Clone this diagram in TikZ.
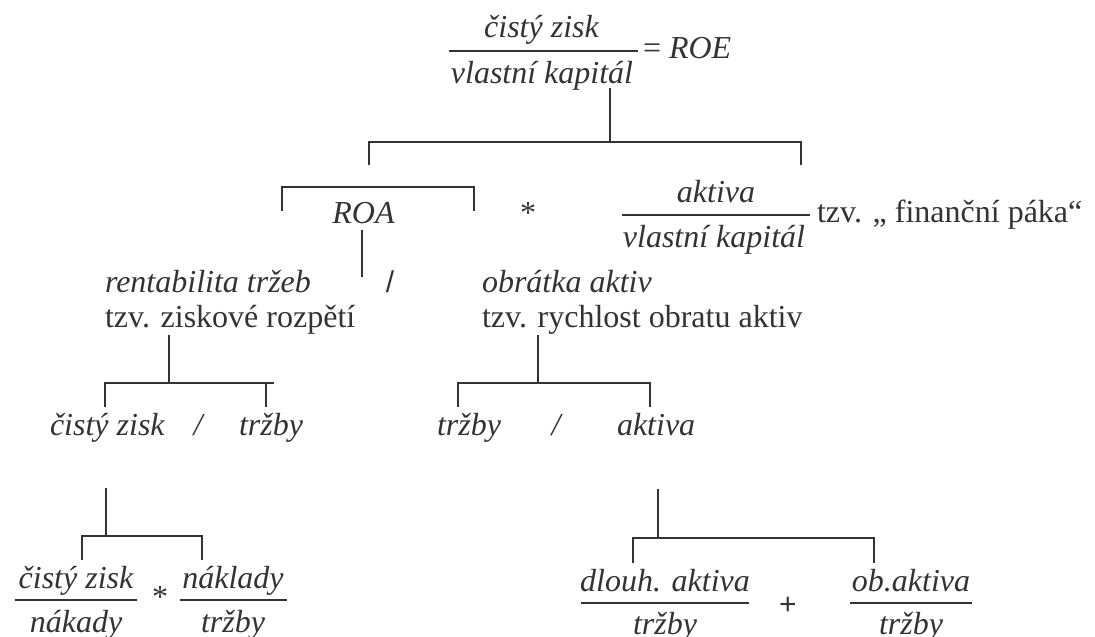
\documentclass[tikz,border=0pt]{standalone}
\usepackage{fontspec}
\setmainfont{Liberation Serif}
\newfontfamily\sansglyph{Liberation Sans}
\definecolor{ink}{HTML}{333333}
\tikzset{
  txt/.style={inner sep=0pt, outer sep=0pt, text=ink, font=\fontsize{32}{38}\selectfont},
  itx/.style={txt, font=\fontsize{32}{38}\selectfont\itshape},
  sgl/.style={txt, font=\fontsize{30}{36}\selectfont\sansglyph},
  link/.style={draw=ink, line width=2pt},
  fbar/.style={draw=ink, line width=1.6pt}
}
\begin{document}
\begin{tikzpicture}[x=1pt,y=-1pt]
\useasboundingbox (0,0) rectangle (1095,637);
% ---------- top: ROE ----------
\node[itx, anchor=base] (roeNum) at (541.5,37) {čistý zisk};
\node[itx, anchor=base] (roeDen) at (542,83) {vlastní kapitál};
\coordinate (roeBarL) at (449,50.7);
\coordinate (roeBarR) at (638,50.7);
\draw[fbar] (roeBarL) -- (roeBarR);
\node[txt, anchor=base west] (roe) at (643,58) {= \textit{ROE}};
% top bracket
\coordinate (t0) at (610,88);
\coordinate (t1) at (610,142);
\coordinate (tL) at (369,142);
\coordinate (tR) at (801,142);
\coordinate (tLd) at (369,165);
\coordinate (tRd) at (801,165);
\draw[link] (t0) -- (t1);
\draw[link] (tLd) -- (tL) -- (tR) -- (tRd);
% ---------- ROA ----------
\coordinate (rL) at (282,211);
\coordinate (rLu) at (282,187);
\coordinate (rRu) at (474,187);
\coordinate (rR) at (474,211);
\draw[link] (rL) -- (rLu) -- (rRu) -- (rR);
\node[itx, anchor=base] (roa) at (363.5,223) {ROA};
\node[txt, anchor=base] (mul1) at (528,223) {*};
% aktiva / vlastni kapital
\node[itx, anchor=base] (akNum) at (716,202) {aktiva};
\node[itx, anchor=base] (akDen) at (714,247) {vlastní kapitál};
\coordinate (akBarL) at (622,215);
\coordinate (akBarR) at (810,215);
\draw[fbar] (akBarL) -- (akBarR);
\node[txt, anchor=base west] (paka) at (817,222) {tzv. „ finanční páka“};
% ROA split
\coordinate (s0) at (362,230);
\coordinate (s1) at (362,277);
\draw[link] (s0) -- (s1);
\node[sgl, anchor=base] (div1) at (390,292) {/};
\node[itx, anchor=base west] (rent) at (105,292) {rentabilita tržeb};
\node[txt, anchor=base west] (zisk) at (105,327) {tzv. ziskové rozpětí};
\node[itx, anchor=base west] (obr) at (482,292) {obrátka aktiv};
\node[txt, anchor=base west] (rych) at (482,327) {tzv. rychlost obratu aktiv};
% left middle bracket
\coordinate (lm0) at (169,335);
\coordinate (lm1) at (169,383);
\coordinate (lmL) at (105,383);
\coordinate (lmE) at (274,383);
\coordinate (lmLd) at (105,407);
\coordinate (lmRu) at (266,383);
\coordinate (lmRd) at (266,407);
\draw[link] (lm0) -- (lm1);
\draw[link] (lmLd) -- (lmL) -- (lmE);
\draw[link] (lmRu) -- (lmRd);
\node[itx, anchor=base west] (cz1) at (50,435) {čistý zisk};
\node[itx, anchor=base] (div2) at (198,435) {/};
\node[itx, anchor=base west] (tr1) at (239,435) {tržby};
% right middle bracket
\coordinate (rm0) at (538,335);
\coordinate (rm1) at (538,383);
\coordinate (rmL) at (458,383);
\coordinate (rmR) at (650,383);
\coordinate (rmLd) at (458,407);
\coordinate (rmRd) at (650,407);
\draw[link] (rm0) -- (rm1);
\draw[link] (rmLd) -- (rmL) -- (rmR) -- (rmRd);
\node[itx, anchor=base west] (tr2) at (437,435) {tržby};
\node[itx, anchor=base] (div3) at (556,435) {/};
\node[itx, anchor=base west] (ak2) at (617,435) {aktiva};
% bottom left bracket
\coordinate (bl0) at (106,488);
\coordinate (bl1) at (106,536);
\coordinate (blL) at (82,536);
\coordinate (blR) at (202,536);
\coordinate (blLd) at (82,560);
\coordinate (blRd) at (202,560);
\draw[link] (bl0) -- (bl1);
\draw[link] (blLd) -- (blL) -- (blR) -- (blRd);
\node[itx, anchor=base] (f1n) at (76,588) {čistý zisk};
\node[itx, anchor=base] (f1d) at (76,632) {nákady};
\coordinate (f1a) at (15,600);
\coordinate (f1b) at (137,600);
\draw[fbar] (f1a) -- (f1b);
\node[txt, anchor=base] (mul2) at (160,607) {*};
\node[itx, anchor=base] (f2n) at (233,588) {náklady};
\node[itx, anchor=base] (f2d) at (233,632) {tržby};
\coordinate (f2a) at (180,600);
\coordinate (f2b) at (287,600);
\draw[fbar] (f2a) -- (f2b);
% bottom right bracket
\coordinate (br0) at (658,489);
\coordinate (br1) at (658,538);
\coordinate (brL) at (633,538);
\coordinate (brR) at (874,538);
\coordinate (brLd) at (633,563);
\coordinate (brRd) at (874,563);
\draw[link] (br0) -- (br1);
\draw[link] (brLd) -- (brL) -- (brR) -- (brRd);
\node[itx, anchor=base] (f3n) at (665,591) {dlouh. aktiva};
\node[itx, anchor=base] (f3d) at (665,634) {tržby};
\coordinate (f3a) at (581,603);
\coordinate (f3b) at (749,603);
\draw[fbar] (f3a) -- (f3b);
\node[sgl, anchor=base] (plus) at (788,614) {+};
\node[itx, anchor=base] (f4n) at (911,591) {ob.aktiva};
\node[itx, anchor=base] (f4d) at (911,634) {tržby};
\coordinate (f4a) at (850,603);
\coordinate (f4b) at (972,603);
\draw[fbar] (f4a) -- (f4b);
\end{tikzpicture}
\end{document}
